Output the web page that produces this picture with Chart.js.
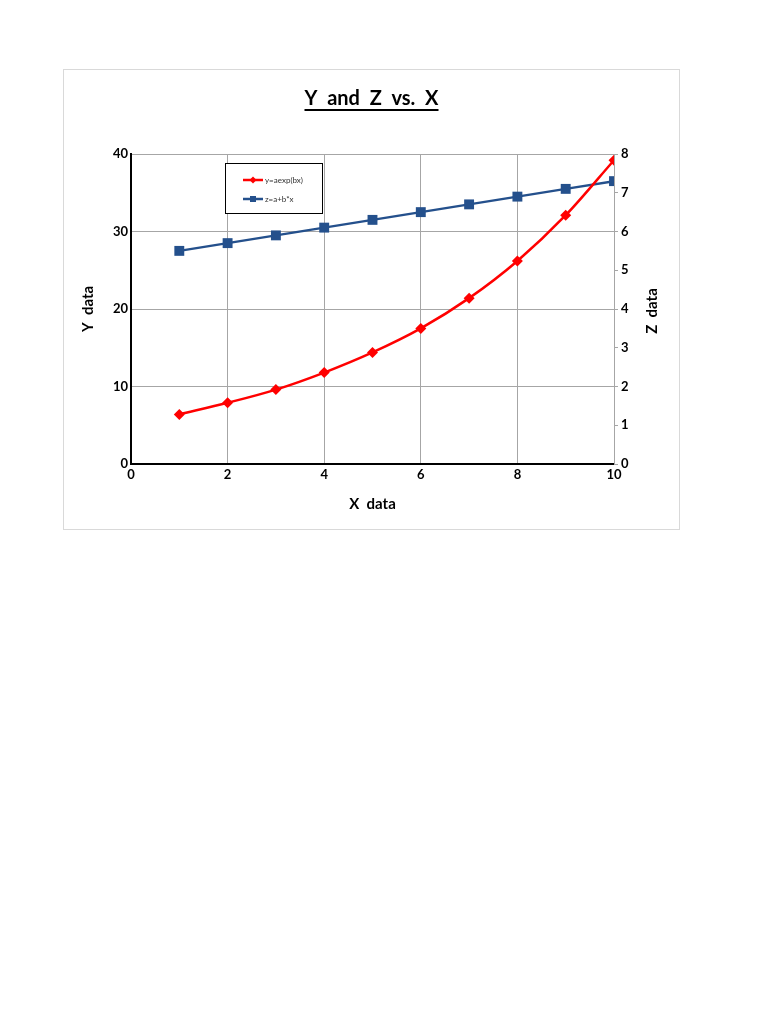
<!DOCTYPE html>
<html>
<head>
<meta charset="utf-8">
<script src="https://cdn.jsdelivr.net/npm/chart.js@4.4.1/dist/chart.umd.min.js"></script>
<style>
  html, body { margin: 0; padding: 0; background: #ffffff; }
  #box { position: absolute; left: 63px; top: 69px; width: 615px; height: 459px; border: 1px solid #d9d9d9; background: #fff; }
  canvas { display: block; }
</style>
</head>
<body>
<div id="box"><canvas id="c" width="615" height="459"></canvas></div>
<script>
// ---- data ----
const xValues = [1, 2, 3, 4, 5, 6, 7, 8, 9, 10];
const yValues = [6.4, 7.9, 9.6, 11.8, 14.4, 17.5, 21.4, 26.2, 32.1, 39.2];
const zValues = [5.5, 5.7, 5.9, 6.1, 6.3, 6.5, 6.7, 6.9, 7.1, 7.3];
const seriesLabels = ['y=aexp(bx)', 'z=a+b*x'];
const titleText = 'Y  and  Z  vs.  X';
const xTitle = 'X  data';
const yTitle = 'Y  data';
const zTitle = 'Z  data';

const FONT = 'Lato, "Open Sans", sans-serif';
const RED = '#ff0000';
const BLUE = '#24508c';
const GRID = '#a6a6a6';

const toPoints = (xs, vs) => xs.map((x, i) => ({ x: x, y: vs[i] }));

const extras = {
  id: 'extras',
  afterDraw(chart) {
    const ctx = chart.ctx;
    // title underline
    const tb = chart.titleBlock;
    if (tb) {
      ctx.save();
      ctx.font = 'bold 20px ' + FONT;
      const w = ctx.measureText(titleText).width;
      const cx = (tb.left + tb.right) / 2;
      ctx.fillStyle = '#000';
      ctx.fillRect(cx - w / 2, 39, w, 2);
      ctx.restore();
    }
    // Z axis title (reads bottom to top)
    const s = chart.scales.y1;
    ctx.save();
    ctx.translate(588, (s.top + s.bottom) / 2 + 2);
    ctx.rotate(-Math.PI / 2);
    ctx.font = 'bold 15px ' + FONT;
    ctx.fillStyle = '#000';
    ctx.textAlign = 'center';
    ctx.textBaseline = 'middle';
    ctx.fillText(zTitle, 0, 0);
    ctx.restore();
    // legend box
    const lx = 161, ly = 93, lw = 97, lh = 50;
    ctx.save();
    ctx.fillStyle = '#fff';
    ctx.fillRect(lx, ly, lw, lh);
    ctx.strokeStyle = '#000';
    ctx.lineWidth = 1;
    ctx.strokeRect(lx + 0.5, ly + 0.5, lw, lh);
    const rows = [110, 129];
    chart.data.datasets.forEach((ds, i) => {
      const yy = rows[i];
      ctx.strokeStyle = ds.borderColor;
      ctx.lineWidth = 2.5;
      ctx.beginPath();
      ctx.moveTo(179, yy);
      ctx.lineTo(199, yy);
      ctx.stroke();
      ctx.fillStyle = ds.backgroundColor;
      ctx.beginPath();
      if (i === 0) {
        ctx.moveTo(189, yy - 3.5); ctx.lineTo(192.5, yy); ctx.lineTo(189, yy + 3.5); ctx.lineTo(185.5, yy);
        ctx.closePath();
      } else {
        ctx.rect(186, yy - 3, 6, 6);
      }
      ctx.fill();
      ctx.fillStyle = '#333';
      ctx.font = '8px ' + FONT;
      ctx.textAlign = 'left';
      ctx.textBaseline = 'middle';
      ctx.fillText(ds.label, 201, yy);
    });
    ctx.restore();
  }
};

new Chart(document.getElementById('c'), {
  type: 'line',
  data: {
    datasets: [
      {
        label: seriesLabels[0],
        data: toPoints(xValues, yValues),
        yAxisID: 'y',
        borderColor: RED,
        backgroundColor: RED,
        borderWidth: 2.5,
        pointStyle: 'rectRot',
        pointRadius: 5.5,
        pointBorderWidth: 0,
        tension: 0.4,
        cubicInterpolationMode: 'monotone'
      },
      {
        label: seriesLabels[1],
        data: toPoints(xValues, zValues),
        yAxisID: 'y1',
        borderColor: BLUE,
        backgroundColor: BLUE,
        borderWidth: 2.5,
        pointStyle: 'rect',
        pointRadius: 7,
        pointBorderWidth: 0,
        tension: 0
      }
    ]
  },
  options: {
    responsive: false,
    animation: false,
    layout: { padding: 0 },
    plugins: {
      legend: { display: false },
      tooltip: { enabled: false },
      title: {
        display: true,
        text: titleText,
        color: '#000',
        font: { family: FONT, size: 20, weight: 'bold', lineHeight: 1.2 },
        padding: { top: 17, bottom: 43 }
      }
    },
    scales: {
      x: {
        type: 'linear',
        min: 0, max: 10,
        ticks: { stepSize: 2, color: '#000', padding: 3, font: { family: FONT, size: 13, weight: 'bold' } },
        grid: { color: GRID, lineWidth: 1, drawTicks: false },
        border: { color: '#000', width: 2 },
        title: { display: true, text: xTitle, color: '#000', font: { family: FONT, size: 15, weight: 'bold', lineHeight: 1.2 }, padding: { top: 0, bottom: 15.6 } },
        afterFit(s) { s.height = 65; }
      },
      y: {
        type: 'linear',
        position: 'left',
        min: 0, max: 40,
        ticks: { stepSize: 10, color: '#000', padding: 3, font: { family: FONT, size: 13, weight: 'bold' } },
        grid: { color: GRID, lineWidth: 1, drawTicks: false },
        border: { color: '#000', width: 2 },
        title: { display: true, text: yTitle, color: '#000', font: { family: FONT, size: 15, weight: 'bold', lineHeight: 1.2 }, padding: { top: 15.6, bottom: 0 } },
        afterFit(s) { s.width = 67; }
      },
      y1: {
        type: 'linear',
        position: 'right',
        min: 0, max: 8,
        ticks: { stepSize: 1, color: '#000', padding: 3, font: { family: FONT, size: 13, weight: 'bold' } },
        grid: { drawOnChartArea: false, drawTicks: true, tickLength: 4, color: GRID },
        border: { color: GRID, width: 1 },
        afterFit(s) { s.width = 65; }
      }
    }
  },
  plugins: [extras]
});
</script>
</body>
</html>
